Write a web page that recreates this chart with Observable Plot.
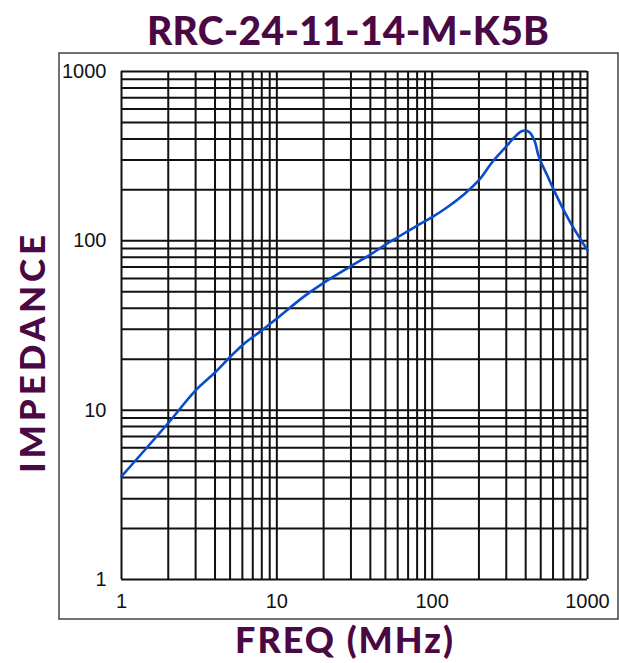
<!DOCTYPE html>
<html>
<head>
<meta charset="utf-8">
<script src="https://cdn.jsdelivr.net/npm/d3@7"></script>
<script src="https://cdn.jsdelivr.net/npm/@observablehq/plot@0.6"></script>
<style>
  html, body { margin: 0; padding: 0; background: #fff; }
  #chart { width: 619px; height: 663px; }
</style>
</head>
<body>
<div id="chart"></div>
<script>
const title = "RRC-24-11-14-M-K5B";
const xLabel = "FREQ (MHz)";
const yLabel = "IMPEDANCE";

const freq = [1, 2, 3, 4, 5, 6, 8, 10, 15, 20, 30, 40, 50, 60, 80, 100, 125, 160, 200, 244, 300, 336, 380, 420, 455, 487, 551, 623, 705, 818, 1000];
const impedance = [4.06, 8.4, 13.1, 16.7, 20.6, 24.2, 29.6, 34.8, 47, 56.5, 71, 83, 95, 105, 123, 138, 158, 188, 228, 292, 361, 406, 445, 440, 392, 312, 243, 190, 151, 118, 88];

const xTicks = [1, 10, 100, 1000];
const yTicks = [1, 10, 100, 1000];
const xGrid = [1,2,3,4,5,6,7,8,9,10,20,30,40,50,60,70,80,90,100,200,300,400,500,600,700,800,900,1000];
const yGrid = [1,2,3,4,5,6,7,8,9,10,20,30,40,50,60,70,80,90,100,200,300,400,500,600,700,800,900,1000];

const data = freq.map((f, i) => ({f, z: impedance[i]}));

const purple = "#4a0844";

const svg = Plot.plot({
  width: 619,
  height: 663,
  marginLeft: 121,
  marginRight: 32,
  marginTop: 71,
  marginBottom: 84,
  style: {background: "transparent", fontFamily: "Liberation Sans, Arial, sans-serif", fontSize: "20px", color: "#111", overflow: "visible"},
  x: {type: "log", domain: [1, 1000], ticks: xTicks, tickFormat: d => String(d), tickSize: 0, tickPadding: 14, label: null},
  y: {type: "log", domain: [1, 1000], ticks: yTicks, tickFormat: d => String(d), tickSize: 0, tickPadding: 15, label: null},
  marks: [
    Plot.ruleX(xGrid, {stroke: "#111", strokeWidth: 2}),
    Plot.ruleY(yGrid, {stroke: "#111", strokeWidth: 2}),
    Plot.line(data, {x: "f", y: "z", stroke: "#0a4ccc", strokeWidth: 2.6, curve: "catmull-rom"})
  ]
});

const s = d3.select(svg);
s.insert("rect", ":first-child")
  .attr("x", 59).attr("y", 53).attr("width", 559).attr("height", 566)
  .attr("fill", "none").attr("stroke", "#444").attr("stroke-width", 1.5);

const labelFont = "Lato, 'Open Sans', sans-serif";
s.append("text")
  .attr("x", 348).attr("y", 45)
  .attr("text-anchor", "middle")
  .attr("font-family", labelFont).attr("font-weight", 900)
  .attr("font-size", 39).attr("fill", purple)
  .attr("textLength", 402).attr("lengthAdjust", "spacing")
  .text(title);
s.append("text")
  .attr("x", 344).attr("y", 653)
  .attr("text-anchor", "middle")
  .attr("font-family", labelFont).attr("font-weight", 900)
  .attr("font-size", 36).attr("fill", purple)
  .attr("textLength", 218).attr("lengthAdjust", "spacing")
  .text(xLabel);
s.append("text")
  .attr("transform", "translate(45,354) rotate(-90)")
  .attr("text-anchor", "middle")
  .attr("font-family", labelFont).attr("font-weight", 900)
  .attr("font-size", 35).attr("fill", purple)
  .attr("textLength", 238).attr("lengthAdjust", "spacing")
  .text(yLabel);

document.getElementById("chart").appendChild(svg);
</script>
</body>
</html>
